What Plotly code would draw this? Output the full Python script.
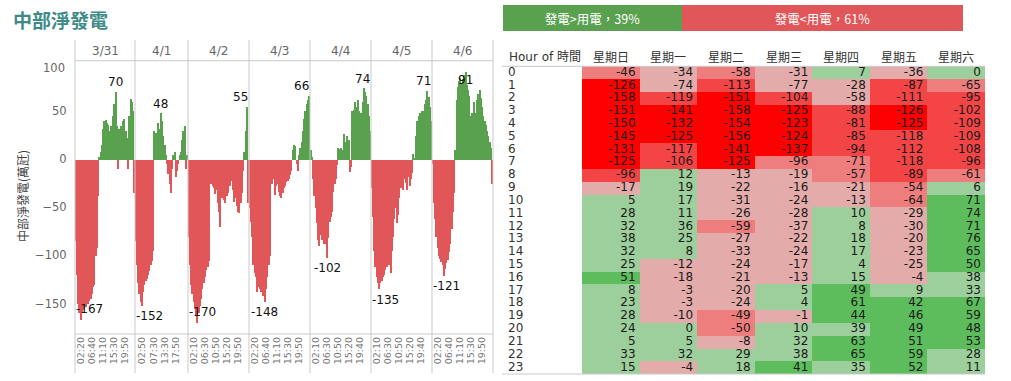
import numpy as np
import plotly.graph_objects as go

# ---------------- data ----------------
day_labels = ["3/31", "4/1", "4/2", "4/3", "4/4", "4/5", "4/6"]

# half-hourly net generation (萬瓩)
net_0331 = [-85, -120, -150, -160, -167, -158, -156, -155, -153, -150, -150, -147, -145, -140, -133, -130,
            -100, -92, -38, 3, 8, 15, 32, 40, 41, 38, 36, 30, 35, 28, 45, 58,
            70, 35, -10, 32, 35, 33, 40, 42, 30, 22, -10, 45, 63, 60, 50, -35]
net_0401 = [-85, -110, -128, -140, -148, -152, -138, -130, -126, -124, -120, -116, -110, -105, -95, 30,
            28, 25, 38, 32, 48, 40, 25, 15, 5, -5, -15, -25, -35, -10, 5, 8,
            -18, -12, -5, 5, 8, 20, 30, 35, -10, 5]
net_0402 = [-80, -110, -130, -140, -148, -155, -162, -170, -160, -152, -145, -135, -128, -122, -115, -112,
            -105, -20, -25, -28, -30, -36, -32, -45, -55, -70, -40, -35, -42, -45, -38, -35,
            -25, -28, -22, -32, -44, -40, -48, -55, -56, -45, -35, -12, 8, 30, 55, -45]
net_0403 = [-50, -65, -80, -110, -118, -122, -138, -132, -135, -138, -130, -142, -148, -135, -122, -110,
            -100, -22, -25, -20, -37, -28, -25, -34, -38, -40, -35, -30, -27, -23, -22, -20,
            -16, -12, 10, 15, 14, -5, -12, 5, 12, 18, 30, 42, 50, 58, 62, 66]
net_0404 = [10, 3, -20, -38, -50, -66, -84, -90, -78, -84, -82, -88, -88, -102, -82, -65,
            -60, -54, -34, -25, -20, -6, 12, 11, 12, 10, 27, 18, 15, 25, 20, -13,
            -8, 50, 52, 60, 55, 62, 50, 45, 48, 60, 74, 70, 66, 58, 45, 30]
net_0405 = [-30, -60, -95, -112, -122, -128, -135, -128, -126, -122, -120, -115, -112, -108, -110, -118,
            -95, -80, -62, -50, -66, -58, -40, -30, -28, -32, -20, -24, -32, -18, -28, -20,
            -14, 6, 2, 25, 40, 45, 48, 44, 50, 50, 58, 62, 71, 65, 55, 40]
net_0406 = [-5, -45, -62, -80, -92, -100, -103, -106, -110, -121, -114, -108, -104, -96, -88, -72,
            -55, -35, 10, 62, 75, 82, 85, 80, 84, 88, 91, 78, 72, 66, 45, 48,
            42, 60, 48, 62, 68, 72, 64, 55, 45, 40, 36, 30, 25, 18, 12, -25]

full_day_hours = [h * 0.5 for h in range(48)]
hours_0401 = [h * 0.5 for h in range(16)] + [9.5 + h * 0.5 for h in range(26)]

ticks_0331 = ["02:20", "06:40", "11:10", "15:30", "19:50"]
ticks_0401 = ["02:50", "07:30", "13:30", "17:50"]
ticks_0402 = ["02:10", "06:30", "10:50", "15:20", "19:50"]
ticks_0403 = ["02:20", "06:40", "11:10", "15:30", "19:50"]
ticks_0404 = ["02:10", "06:30", "10:50", "15:20", "19:40"]
ticks_0405 = ["02:10", "06:30", "10:50", "15:20", "19:40"]
ticks_0406 = ["02:20", "06:40", "11:10", "15:30", "19:50"]

# hourly table by weekday
weekday_labels = ["星期日", "星期一", "星期二", "星期三", "星期四", "星期五", "星期六"]
hour_labels = [str(h) for h in range(24)]
hour_sun = [-46, -126, -158, -151, -150, -145, -131, -125, -96, -17, 5, 28, 32, 38, 32, 25, 51, 8, 23, 28, 24, 5, 33, 15]
hour_mon = [-34, -74, -119, -141, -132, -125, -117, -106, 12, 19, 17, 11, 36, 25, 8, -12, -18, -3, -3, -10, 0, 5, 32, -4]
hour_tue = [-58, -113, -151, -158, -154, -156, -141, -125, -13, -22, -31, -26, -59, -27, -33, -24, -21, -20, -24, -49, -50, -8, 29, 18]
hour_wed = [-31, -77, -104, -125, -123, -124, -137, -96, -19, -16, -24, -28, -37, -22, -24, -17, -13, 5, 4, -1, 10, 32, 38, 41]
hour_thu = [7, -28, -58, -88, -81, -85, -94, -71, -57, -21, -13, 10, 8, 18, 17, 4, 15, 49, 61, 44, 39, 63, 65, 35]
hour_fri = [-36, -87, -111, -126, -125, -118, -112, -118, -89, -54, -64, -29, -30, -20, -23, -25, -4, 9, 42, 46, 49, 51, 59, 52]
hour_sat = [0, -65, -95, -102, -109, -109, -108, -96, -61, 6, 71, 74, 71, 76, 65, 50, 38, 33, 67, 59, 48, 53, 28, 11]

# colour class of each table cell as shown (0 pale red .. 3 pure red, 4 light green, 5 green)
cell_class = [
    [1, 0, 1, 0, 4, 0, 4], [3, 0, 2, 0, 0, 2, 1], [3, 2, 3, 2, 0, 2, 2], [3, 3, 3, 3, 2, 3, 2],
    [3, 3, 3, 3, 2, 3, 2], [3, 3, 3, 3, 2, 2, 2], [3, 2, 3, 3, 2, 2, 2], [3, 2, 3, 1, 1, 2, 2],
    [2, 4, 0, 0, 1, 2, 1], [0, 4, 0, 0, 0, 1, 4], [4, 4, 0, 0, 0, 1, 5], [4, 4, 0, 0, 4, 0, 5],
    [4, 4, 1, 0, 4, 0, 5], [4, 4, 0, 0, 4, 0, 5], [4, 4, 0, 0, 4, 0, 5], [4, 0, 0, 0, 4, 0, 5],
    [5, 0, 0, 0, 4, 0, 4], [4, 0, 0, 4, 5, 4, 4], [4, 0, 0, 4, 5, 5, 5], [4, 0, 1, 0, 5, 5, 5],
    [4, 4, 1, 4, 4, 5, 5], [4, 4, 0, 4, 5, 5, 5], [4, 4, 4, 4, 5, 5, 4], [4, 0, 4, 5, 4, 5, 4],
]

share_labels = ["發電>用電", "發電<用電"]
share_values = [39, 61]

# ---------------- styling ----------------
W, H = 1011, 381
GREEN, RED = "#59A14F", "#E15759"
CLASS_COLORS = ["#E4ABAB", "#EE7D7D", "#F34545", "#FF0000", "#9CCF9B", "#5DBD5C"]
FONT = "DejaVu Sans, Noto Sans CJK TC, sans-serif"
CJK = "Noto Sans CJK TC, DejaVu Sans, sans-serif"
GRID = "#C9C9C9"


def fx(px):
    return px / W


def fy(py):
    return 1 - py / H


panel_edges = [75, 135, 188, 249, 310, 371, 432, 493]
Y_TOP, Y_BOT = 60.7, 334.0
Y_RANGE = [-181.7, 102.5]
PPU = (Y_BOT - Y_TOP) / (Y_RANGE[1] - Y_RANGE[0])

days = [
    (net_0331, full_day_hours, ticks_0331),
    (net_0401, hours_0401, ticks_0401),
    (net_0402, full_day_hours, ticks_0402),
    (net_0403, full_day_hours, ticks_0403),
    (net_0404, full_day_hours, ticks_0404),
    (net_0405, full_day_hours, ticks_0405),
    (net_0406, full_day_hours, ticks_0406),
]

fig = go.Figure()
layout_axes = {}
annotations = []
shapes = []


def paper_text(px, py, text, size, color, family, xanchor="center", **kw):
    return dict(x=fx(px), y=fy(py), xref="paper", yref="paper", text=text, showarrow=False,
                xanchor=xanchor, yanchor="middle", font=dict(size=size, color=color, family=family), **kw)


def text_width(s, size=12):
    w = 0
    for ch in s:
        w += 0.361 if ch == "-" else 0.636
    return w * size


for d, (vals, hrs, ticks) in enumerate(days):
    n = d + 1
    xa = "x" if n == 1 else f"x{n}"
    key = "xaxis" if n == 1 else f"xaxis{n}"
    idx = list(range(len(vals)))
    fig.add_trace(go.Bar(
        x=idx, y=vals, xaxis=xa, yaxis="y",
        marker=dict(color=[GREEN if v >= 0 else RED for v in vals], line=dict(width=0)),
        hoverinfo="skip", showlegend=False))
    tick_h = [int(t[:2]) + int(t[3:]) / 60 for t in ticks]
    tickpos = list(np.interp(tick_h, hrs, idx) - 0.5)
    left, right = panel_edges[d], panel_edges[d + 1]
    layout_axes[key] = dict(
        domain=[fx(left), fx(right)], range=[-0.5, len(vals) - 0.5], anchor="y",
        tickmode="array", tickvals=tickpos, ticktext=ticks, tickangle=-90,
        tickfont=dict(size=9.5, color="#777", family=FONT), ticks="",
        showgrid=False, zeroline=False, showline=False, fixedrange=True)
    # day header
    annotations.append(paper_text((left + right) / 2, 50.7, day_labels[d], 12, "#666", FONT))
    # max / min labels
    bw = (right - left) / len(vals)
    for kind in ("max", "min"):
        i = int(np.argmax(vals)) if kind == "max" else int(np.argmin(vals))
        v = vals[i]
        s = str(v)
        tw = text_width(s)
        cx = left + (i + 0.5) * bw
        tx = min(max(cx, left + tw / 2 + 1), right - tw / 2 - 1)
        if kind == "max":
            ys = 9.5 if v * PPU + 16.5 <= Y_RANGE[1] * PPU else -8.5
        else:
            ys = -10.5 if abs(v) * PPU + 17.5 <= abs(Y_RANGE[0]) * PPU else 10.5
        annotations.append(dict(x=i, y=v, xref=xa, yref="y", text=s, showarrow=False,
                                xshift=tx - cx, yshift=ys, xanchor="center", yanchor="middle",
                                font=dict(size=12, color="#111", family=FONT)))

layout_axes["yaxis"] = dict(
    domain=[fy(Y_BOT), fy(Y_TOP)], range=Y_RANGE, anchor="x",
    tickmode="array", tickvals=[-150, -100, -50, 0, 50], ticks="outside", ticklen=5,
    tickcolor="rgba(0,0,0,0)", tickfont=dict(size=11.5, color="#666", family=FONT),
    showgrid=False, zeroline=False, showline=False, fixedrange=True)
annotations.append(paper_text(67, 67.8, "100", 11.5, "#666", FONT, xanchor="right"))
annotations.append(paper_text(22, 196, "中部淨發電(萬瓩)", 12, "#444", CJK, textangle=-90))

# pane borders
for e in panel_edges:
    shapes.append(dict(type="line", xref="paper", yref="paper", x0=fx(e), x1=fx(e), y0=fy(40), y1=fy(373),
                       line=dict(color=GRID, width=1)))
for yy in (Y_TOP, Y_BOT):
    shapes.append(dict(type="line", xref="paper", yref="paper", x0=fx(75), x1=fx(493), y0=fy(yy), y1=fy(yy),
                       line=dict(color=GRID, width=1)))

# ---------------- table ----------------
hour_cols = [hour_sun, hour_mon, hour_tue, hour_wed, hour_thu, hour_fri, hour_sat]
TBL_L, CELL_L, TBL_R = 505, 582, 985
COL_W = (TBL_R - CELL_L) / 7
x_left = -0.5 - (CELL_L - TBL_L) / COL_W
nc = len(CLASS_COLORS)
cscale = []
for k, c in enumerate(CLASS_COLORS):
    cscale += [[k / nc, c], [(k + 1) / nc, c]]
z = [[cell_class[r][c] + 0.5 for c in range(7)] for r in range(24)]
fig.add_trace(go.Heatmap(z=z, x=list(range(7)), y=list(range(24)), colorscale=cscale, zmin=0, zmax=nc,
                         showscale=False, xgap=0, ygap=0, hoverinfo="skip", xaxis="x8", yaxis="y8"))
tx, ty, tt = [], [], []
for c in range(7):
    for r in range(24):
        tx.append(c + 0.5 - 4 / COL_W)
        ty.append(r)
        tt.append(str(hour_cols[c][r]))
fig.add_trace(go.Scatter(x=tx, y=ty, text=tt, mode="text", textposition="middle left",
                         textfont=dict(size=12, color="#1a1a1a", family=FONT), cliponaxis=False,
                         hoverinfo="skip", showlegend=False, xaxis="x8", yaxis="y8"))
fig.add_trace(go.Scatter(x=[-0.5 - (CELL_L - 508) / COL_W] * 24, y=list(range(24)), text=hour_labels,
                         mode="text", textposition="middle right", cliponaxis=False,
                         textfont=dict(size=12, color="#333", family=FONT),
                         hoverinfo="skip", showlegend=False, xaxis="x8", yaxis="y8"))
layout_axes["xaxis8"] = dict(domain=[fx(TBL_L), fx(TBL_R)], range=[x_left, 6.5], anchor="y8", visible=False,
                             fixedrange=True)
layout_axes["yaxis8"] = dict(domain=[fy(374), fy(66.3)], range=[23.5, -0.5], anchor="x8", visible=False,
                             fixedrange=True)
annotations.append(paper_text(507, 56.7, "Hour of 時間", 12, "#333", FONT, xanchor="left"))
for c, lab in enumerate(weekday_labels):
    annotations.append(dict(x=c, y=fy(56.7), xref="x8", yref="paper", text=lab, showarrow=False,
                            xanchor="center", yanchor="middle",
                            font=dict(size=12, color="#333", family=CJK)))
for yy in (66.3, 374):
    shapes.append(dict(type="line", xref="paper", yref="paper", x0=fx(502), x1=fx(TBL_R), y0=fy(yy), y1=fy(yy),
                       line=dict(color=GRID, width=1)))

# ---------------- share bar ----------------
for lab, val, col in zip(share_labels, share_values, [GREEN, RED]):
    fig.add_trace(go.Bar(x=[val], y=[0], orientation="h", width=1, marker=dict(color=col, line=dict(width=0)),
                         text=[f"{lab}，{val}%"], textposition="inside", insidetextanchor="middle",
                         textangle=0, textfont=dict(size=12.5, color="white", family=CJK),
                         hoverinfo="skip", showlegend=False, xaxis="x9", yaxis="y9"))
layout_axes["xaxis9"] = dict(domain=[fx(503), fx(963)], range=[0, sum(share_values)], anchor="y9",
                             visible=False, fixedrange=True)
layout_axes["yaxis9"] = dict(domain=[fy(31), fy(5)], range=[-0.5, 0.5], anchor="x9", visible=False,
                             fixedrange=True)

# title
annotations.append(paper_text(11, 19.5, "<b>中部淨發電</b>", 19, "#3E8B88", CJK, xanchor="left"))

fig.update_layout(
    width=W, height=H, margin=dict(l=0, r=0, t=0, b=0), autosize=False,
    paper_bgcolor="white", plot_bgcolor="white", barmode="stack", bargap=0,
    font=dict(family=FONT), showlegend=False,
    annotations=annotations, shapes=shapes, **layout_axes)

fig.write_html("out.html", include_plotlyjs=True, config={"displayModeBar": False},
               post_script="document.body.style.margin='0';document.body.style.overflow='hidden';")
